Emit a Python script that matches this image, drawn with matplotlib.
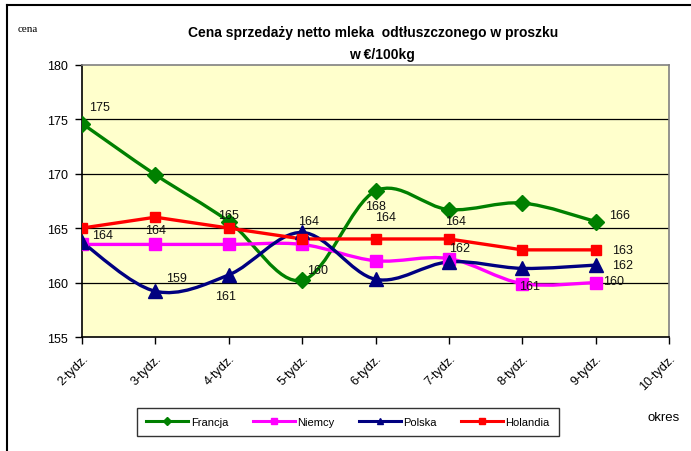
import numpy as np
import matplotlib
matplotlib.use('Agg')
import matplotlib.pyplot as plt
from matplotlib.path import Path
from matplotlib.patches import PathPatch
from matplotlib.lines import Line2D

# dane
tygodnie = ['2-tydz.', '3-tydz.', '4-tydz.', '5-tydz.', '6-tydz.', '7-tydz.', '8-tydz.', '9-tydz.', '10-tydz.']
francja = [174.6, 169.9, 165.6, 160.2, 168.4, 166.7, 167.3, 165.6]
niemcy = [163.5, 163.5, 163.5, 163.5, 162.0, 162.2, 159.9, 160.0]
polska = [163.7, 159.2, 160.7, 164.6, 160.3, 161.9, 161.3, 161.6]
holandia = [165.0, 166.0, 165.0, 164.0, 164.0, 164.0, 163.0, 163.0]

# etykiety danych: (seria, indeks tygodnia, tekst)
etykiety = [
    ('Francja', 0, '175'), ('Niemcy', 0, '164'), ('Niemcy', 1, '164'),
    ('Holandia', 2, '165'), ('Polska', 1, '159'), ('Polska', 2, '161'),
    ('Polska', 3, '164'), ('Francja', 3, '160'), ('Francja', 4, '168'),
    ('Holandia', 4, '164'), ('Holandia', 5, '164'), ('Niemcy', 5, '162'),
    ('Polska', 6, '161'), ('Francja', 7, '166'), ('Holandia', 7, '163'),
    ('Polska', 7, '162'), ('Niemcy', 7, '160'),
]
# przesunięcia etykiet w pikselach
przesuniecia = [(17, 17), (21, 9), (0, 14), (0, 13), (21, 13), (-3, -21),
                (6, 11), (15, 10), (0, -15), (10, 22), (7, 18), (11, 11),
                (7, -18), (24, 7), (27, 0), (27, 0), (18, 2)]

plt.rcParams['font.family'] = ['Liberation Sans', 'DejaVu Sans']

fig = plt.figure(figsize=(6.91, 4.52), dpi=100)
ax = fig.add_axes([82 / 691, 1 - 338 / 452, 587 / 691, 272.3 / 452])
ax.set_facecolor('#ffffcc')


def gladka(x, y):
    # wygładzona linia jak w Excelu (krzywe Beziera)
    p = np.column_stack([x, y]).astype(float)
    n = len(p)
    verts = [p[0]]
    codes = [Path.MOVETO]
    for i in range(n - 1):
        p0 = p[i - 1] if i > 0 else p[i]
        p3 = p[i + 2] if i + 2 < n else p[i + 1]
        c1 = p[i] + (p[i + 1] - p0) / 6
        c2 = p[i + 1] - (p3 - p[i]) / 6
        verts += [c1, c2, p[i + 1]]
        codes += [Path.CURVE4] * 3
    return Path(verts, codes)


serie = {
    'Francja': (francja, '#008000', 'D', 8, True),
    'Niemcy': (niemcy, '#ff00ff', 's', 9, True),
    'Polska': (polska, '#000080', '^', 10, True),
    'Holandia': (holandia, '#ff0000', 's', 7, False),
}

x = np.arange(len(francja))
uchwyty = []
for nazwa, (wart, kolor, mark, ms, wygl) in serie.items():
    if wygl:
        ax.add_patch(PathPatch(gladka(x, wart), fill=False, edgecolor=kolor, lw=2.4, zorder=3))
    else:
        ax.plot(x, wart, color=kolor, lw=2.4, zorder=3)
    ax.plot(x, wart, ls='none', marker=mark, ms=ms, color=kolor, zorder=4)
    uchwyty.append(Line2D([], [], color=kolor, lw=2.2, marker=mark, ms=4))

for (nazwa, i, tekst), (dx, dy) in zip(etykiety, przesuniecia):
    ax.annotate(tekst, (x[i], serie[nazwa][0][i]), xytext=(dx, dy), textcoords='offset pixels',
                ha='center', va='center', fontsize=9, color='#111111', zorder=5)

ax.set_xlim(0, 8)
ax.set_ylim(155, 180)
ax.set_yticks([155, 160, 165, 170, 175, 180])
ax.set_xticks(range(len(tygodnie)))
ax.set_xticklabels(tygodnie, rotation=45, ha='right', va='top', rotation_mode='anchor')
ax.tick_params(axis='both', direction='out', length=5, width=1, labelsize=9, colors='black')
ax.tick_params(axis='x', pad=6)
ax.tick_params(axis='y', pad=5)
for y in [160, 165, 170, 175]:
    ax.axhline(y, color='black', lw=0.9, zorder=1)
ax.spines['left'].set_color('black')
ax.spines['bottom'].set_color('black')
ax.spines['top'].set_color('#808080')
ax.spines['right'].set_color('#808080')
for s in ax.spines.values():
    s.set_linewidth(1.2)

fig.text(373 / 691, 1 - 33 / 452, 'Cena sprzedaży netto mleka  odtłuszczonego w proszku',
         ha='center', va='center', fontsize=10, fontweight='bold')
fig.text(382 / 691, 1 - 55 / 452, 'w €/100kg', ha='center', va='center', fontsize=10, fontweight='bold')
fig.text(18 / 691, 1 - 30 / 452, 'cena', ha='left', va='center', fontsize=8, family='Liberation Serif')
fig.text(664 / 691, 1 - 418 / 452, 'okres', ha='center', va='center', fontsize=9.5)

leg = fig.legend(uchwyty, list(serie.keys()), loc='center', bbox_to_anchor=(348 / 691, 1 - 423 / 452),
                 ncol=4, fontsize=8, frameon=True, fancybox=False, handlelength=3.8,
                 columnspacing=2.2, handletextpad=0.2, borderpad=0.8, edgecolor='black')
leg.get_frame().set_linewidth(1.0)

# ramka dokumentu
fig.add_artist(Line2D([7 / 691, 7 / 691], [0, 1 - 6 / 452], color='black', lw=1.5, transform=fig.transFigure))
fig.add_artist(Line2D([7 / 691, 1], [1 - 6 / 452, 1 - 6 / 452], color='black', lw=1.5, transform=fig.transFigure))

fig.savefig('out.png', dpi=100)
